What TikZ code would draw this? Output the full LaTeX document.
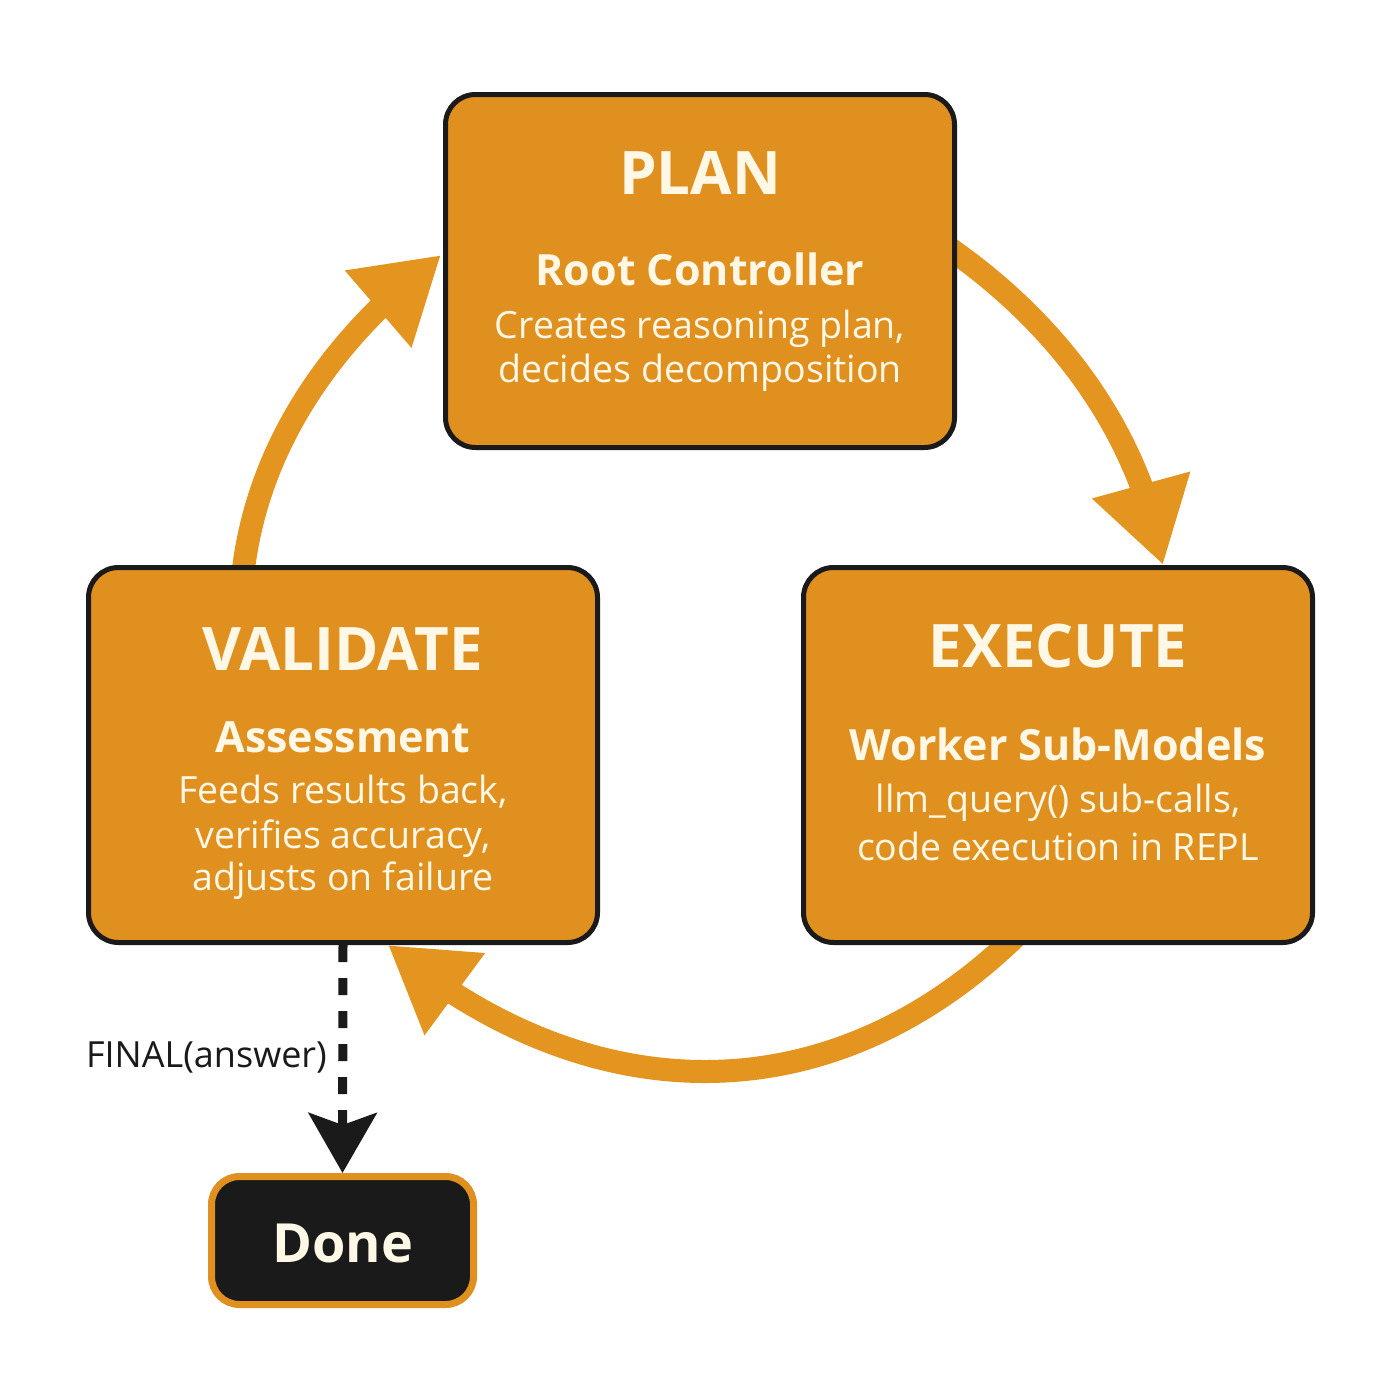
\documentclass[tikz,border=0pt]{standalone}
\usepackage{fontspec}
\setmainfont{Open Sans}
\usetikzlibrary{arrows.meta,calc,bending}
\definecolor{orng}{HTML}{E0901F}
\definecolor{arrorng}{HTML}{E3951F}
\definecolor{ink}{HTML}{1A1A1A}
\definecolor{cream}{HTML}{FFF8E6}
\pgfdeclarelayer{bg}
\pgfsetlayers{bg,main}
\begin{document}
\begin{tikzpicture}[x=1pt,y=1pt,
  stagebox/.style={draw=ink, line width=5pt, fill=orng, rounded corners=30pt,
    minimum width=509pt, inner sep=0pt},
  donebox/.style={draw=orng, line width=7pt, fill=ink, rounded corners=28pt,
    minimum width=262pt, minimum height=128pt, inner sep=0pt},
  ttl/.style={text=cream, font=\fontsize{60}{60}\selectfont\bfseries, anchor=base, inner sep=0pt},
  donetxt/.style={text=cream, font=\fontsize{54}{54}\selectfont\bfseries, anchor=base, inner sep=0pt},
  sub/.style={text=cream, font=\fontsize{43}{43}\selectfont\bfseries, anchor=base, inner sep=0pt},
  desc/.style={text=cream, font=\fontsize{37.5}{37.5}\selectfont, anchor=base, inner sep=0pt},
  lbl/.style={text=ink, font=\fontsize{36}{36}\selectfont, anchor=base east, inner sep=0pt},
  cyc/.style={draw=arrorng, line width=23pt, -{Triangle[length=83pt,width=96pt,flex]}},
  dashline/.style={draw=ink, line width=9pt, dash pattern=on 17pt off 16pt,
    -{Stealth[length=60pt,width=68pt,inset=12pt]}},
]
\useasboundingbox (0,0) rectangle (1400,-1400);

% boxes
\node[stagebox, minimum height=353pt] (plan) at (700,-271) {};
\node[stagebox, minimum height=375pt] (validate) at (343,-755) {};
\node[stagebox, minimum height=375pt] (exec) at (1058,-755) {};
\node[donebox] (done) at (342.5,-1240.5) {};

% texts
\node[ttl] (planT) at (700,-194) {PLAN};
\node[sub] (planS) at (700,-285) {Root Controller};
\node[desc] (planD1) at (700,-338) {Creates reasoning plan,};
\node[desc] (planD2) at (700,-382) {decides decomposition};

\node[ttl] (valT) at (343,-670) {VALIDATE};
\node[sub] (valS) at (343,-752) {Assessment};
\node[desc] (valD1) at (343,-803) {Feeds results back,};
\node[desc] (valD2) at (343,-848) {verifies accuracy,};
\node[desc] (valD3) at (343,-890) {adjusts on failure};

\node[ttl] (exeT) at (1058,-667) {EXECUTE};
\node[sub] (exeS) at (1058,-760) {Worker Sub-Models};
\node[desc] (exeD1) at (1058,-812) {llm\_query() sub-calls,};
\node[desc] (exeD2) at (1058,-860) {code execution in REPL};

\node[donetxt] (doneT) at (343,-1262) {Done};

\node[lbl] (final) at (327,-1067) {FINAL(answer)};

% connectors
\begin{pgfonlayer}{bg}
\fill[white] (0,0) rectangle (1400,-1400);
\coordinate (a1s) at ($(plan.east)+(-8,23)$);
\coordinate (a1e) at ($(exec.north)+(105,0)$);
\coordinate (a2s) at ($(exec.south)+(-43,8)$);
\coordinate (a2e) at ($(validate.south)+(45,0)$);
\coordinate (a3s) at ($(validate.north)+(-100,-8)$);
\coordinate (a3e) at ($(plan.west)+(-2,16)$);
\draw[cyc] (a1s) to[out=-35, in=100, looseness=0.9] (a1e);
\draw[cyc] (a2s) to[out=-136, in=-40, looseness=1.06] (a2e);
\draw[cyc] (a3s) to[out=83.5, in=-143, looseness=0.9] (a3e);
\end{pgfonlayer}
\draw[dashline] (validate.south) -- (done.north);
\end{tikzpicture}
\end{document}
